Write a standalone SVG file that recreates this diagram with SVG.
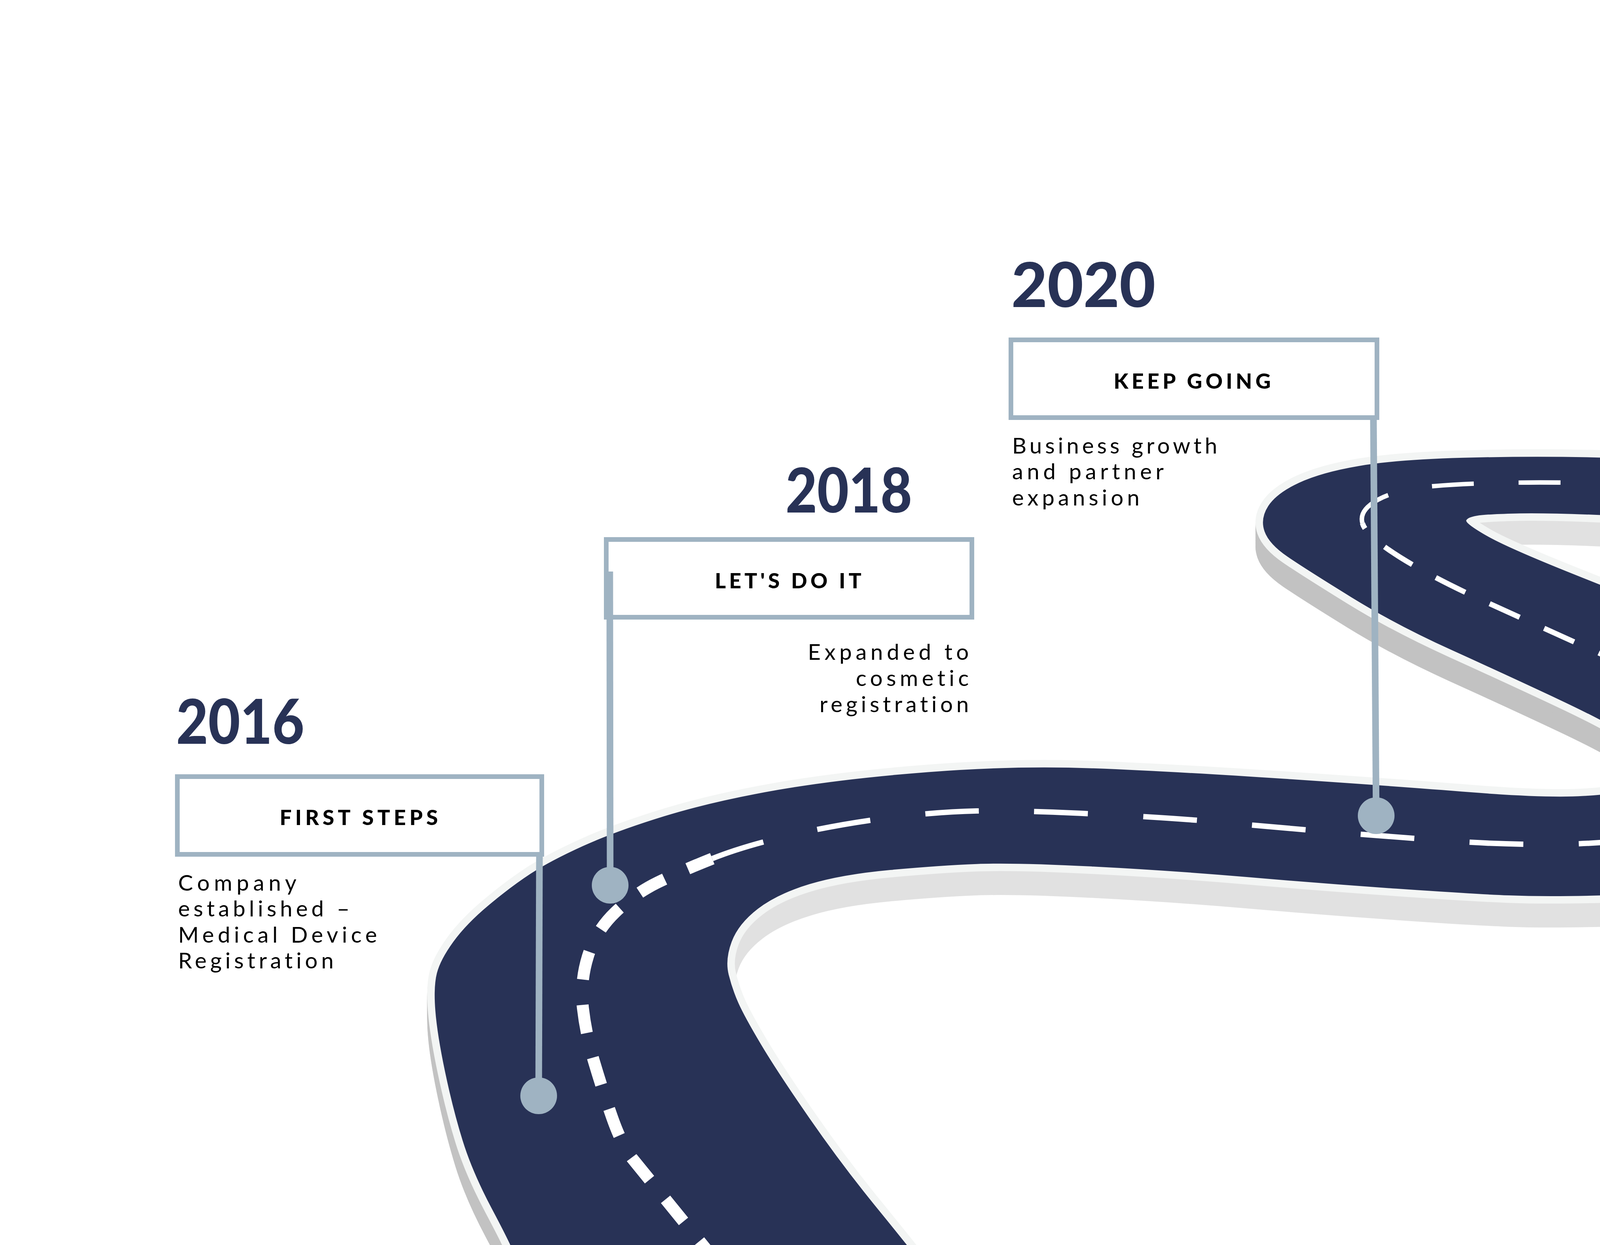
<svg xmlns="http://www.w3.org/2000/svg" width="6000" height="3187" viewBox="0 0 6000 3187">
<style>
.yr{font-family:Lato,'Liberation Sans',sans-serif;font-weight:900;font-size:158px;fill:#283256}
.lbl{font-family:Lato,'Liberation Sans',sans-serif;font-weight:900;font-size:54px;fill:#000}
.desc{font-family:Lato,'Liberation Sans',sans-serif;font-weight:400;font-size:57px;fill:#000;font-variant-ligatures:none}
.box{fill:#fff;stroke:#9fb3c2;stroke-width:12}
.pole{stroke:#9fb3c2;stroke-width:17;fill:none}
.dot{fill:#9fb3c2}
.dash{fill:none;stroke:#fff;stroke-linecap:butt}
</style>
<defs>
<path id="roadShape" d="M346,845 L344,839 Q342,833 329,808.5 Q316,784 309.5,763 Q303,742 297.75,717 Q292.5,692 291.25,676 Q290,660 292.3,651 Q294.6,642 303.3,630 Q312,618 327,605.5 Q342,593 355,584.5 Q368,576 390,566 Q412,556 444.5,546 Q477,536 520,528.5 Q563,521 621,516.5 Q679,512 731.5,514 Q784,516 859,521 Q934,526 984,530 Q1034,534 1059.5,532.5 Q1085,531 1097.5,527 Q1110,523 1111,518.5 Q1112,514 1106,507 Q1100,500 1087.5,491.5 Q1075,483 1042,467.5 Q1009,452 971.5,435 Q934,418 904,399.5 Q874,381 861.5,372.5 Q849,364 846,355.5 Q843,347 848.5,338.5 Q854,330 869,323 Q884,316 909,311.75 Q934,307.5 979,306.25 Q1024,305 1067,306 Q1110,307 1167.5,308.5 Q1225,310 1230.5,307 Q1236,304 1238,297.5 Q1240,291 1240.5,279.5 Q1241,268 1242,259 Q1243,250 1249,240.5 Q1255,231 1270,224 Q1285,217 1310,212.5 Q1335,208 1372.5,205.5 Q1410,203 1447.5,201.75 Q1485,200.5 1526.5,199.75 Q1568,199 1600,199 L1600,228 L1584,228 Q1568,228 1526.8,229.5 Q1485.6,231 1448.1,233.85 Q1410.6,236.7 1391.3,240.35 Q1372,244 1366.5,250 Q1361,256 1360.5,263 Q1360,270 1360,283 Q1360,296 1355,307.5 Q1350,319 1337.5,327.5 Q1325,336 1305,341 Q1285,346 1247.5,348 Q1210,350 1162.35,348.2 Q1114.7,346.4 1074.6,344.7 Q1034.5,343 1014.25,343.5 Q994,344 988,345 Q982,346 981,348 Q980,350 994.75,358.5 Q1009.5,367 1059.6,386.85 Q1109.7,406.7 1147.35,423.7 Q1185,440.7 1210,454.85 Q1235,469 1250,484.5 Q1265,500 1268.75,511.5 Q1272.5,523 1268.75,531.5 Q1265,540 1250,551.25 Q1235,562.5 1210,573.75 Q1185,585 1147.5,591.5 Q1110,598 1072.25,599 Q1034.5,600 1009.45,599 Q984.4,598 934.2,594.5 Q884,591 834,586.7 Q784,582.4 731.5,579.7 Q679,577 653.5,578 Q628,579 595.5,582 Q563,585 541.5,591.5 Q520,598 507,608 Q494,618 489.5,630 Q485,642 487.5,652 Q490,662 494,671 Q498,680 509,698.5 Q520,717 541.5,748 Q563,779 585,806 Q607,833 613.5,841.5 L620,850 Z"/>
<clipPath id="darkClip" clipPathUnits="userSpaceOnUse">
<polygon points="790,340 845,340 870,372 930,408 1005,442 1070,473 1105,495 1125,515 1125,570 790,570"/>
<polygon points="200,650 292,650 300,700 318,765 350,860 200,860"/>
</clipPath>
</defs>
<rect width="6000" height="3187" fill="#fff"/>
<g id="road" transform="scale(3.8265)">
<g fill="#e1e1e1" stroke="#e1e1e1" stroke-width="10" stroke-linejoin="round">
<use href="#roadShape" y="2"/><use href="#roadShape" y="4"/><use href="#roadShape" y="6"/><use href="#roadShape" y="8"/><use href="#roadShape" y="10"/><use href="#roadShape" y="12"/><use href="#roadShape" y="14"/><use href="#roadShape" y="16"/>
</g>
<g clip-path="url(#darkClip)" fill="#c2c2c2" stroke="#c2c2c2" stroke-width="10" stroke-linejoin="round">
<use href="#roadShape" y="2"/><use href="#roadShape" y="4"/><use href="#roadShape" y="6"/><use href="#roadShape" y="8"/><use href="#roadShape" y="10"/><use href="#roadShape" y="12"/><use href="#roadShape" y="14"/><use href="#roadShape" y="16"/>
</g>
<use href="#roadShape" fill="#f3f5f4" stroke="#f3f5f4" stroke-width="10" stroke-linejoin="round"/>
<use href="#roadShape" fill="#283256"/>
<g id="centerline">
<path class="dash" stroke-width="8" stroke-dasharray="19 17" d="M480,845 L423,775 Q416,766 409.5,747.5 Q403,729 397.5,710.5 Q392,692 390,674.5 Q388,657 393.3,639.85 Q398.6,622.7 411.6,610.3 Q424.6,597.9 439.8,590.45 Q455,583 476.5,574.4"/>
<path class="dash" stroke-width="3.6" stroke-dasharray="36 37" d="M476.5,574.4 Q498,565.8 530.5,558.4 Q563,551 595.5,547 Q628,543 653.5,542.5 Q679,542 731.5,544.5 Q784,547 821.5,550.5 Q859,554 896.5,557 Q934,560 971.75,562.7 Q1009.5,565.4 1047.05,564.7 Q1084.6,564 1114.8,557.5 Q1145,551 1162.5,542.5 Q1180,534 1185.5,526.5 Q1191,519 1188,511"/>
<path class="dash" stroke-width="3.5" stroke-dasharray="22 18" d="M1188,511 Q1185,503 1172.5,491.7 Q1160,480.4 1134.85,467.7 Q1109.7,455 1072.1,438 Q1034.5,421 996.95,404 Q959.4,387 936.7,372.8 Q914,358.6 911.5,350.05"/>
<path class="dash" stroke-width="3" stroke-dasharray="28 30" d="M911.5,350.05 Q909,341.5 921.65,334.45 Q934.3,327.4 959.35,325.2 Q984.4,323 1022.2,322.8 Q1060,322.6 1097.5,324.3 Q1135,326 1172.5,327.8 Q1210,329.6 1235,328.5 Q1260,327.4 1275,323.2"/>
<path class="dash" stroke-width="3" stroke-dasharray="10 8" d="M1275,323.2 Q1290,319 1295,310.5 Q1300,302 1300,287.8 Q1300,273.6 1300.5,263.65 Q1301,253.7 1308,245.2 Q1315,236.7 1337.5,229.65"/>
<path class="dash" stroke-width="2.6" stroke-dasharray="30 28" d="M1337.5,229.65 Q1360,222.6 1397.85,219.05 Q1435.7,215.5 1473.3,214.05 Q1510.9,212.6 1539.45,211.9 Q1568,211.2 1600,210.5"/>
</g>
</g>
<g id="m2016">
<text class="yr" x="451" y="1904" textLength="328" lengthAdjust="spacingAndGlyphs">2016</text>
<rect class="box" x="454" y="1988" width="933" height="199"/>
<text class="lbl" x="716" y="2112" textLength="405" lengthAdjust="spacing">FIRST STEPS</text>
<text class="desc" x="456" y="2280" textLength="303" lengthAdjust="spacing">Company</text>
<text class="desc" x="456" y="2346" textLength="439" lengthAdjust="spacing">established –</text>
<text class="desc" x="456" y="2413" textLength="509" lengthAdjust="spacing">Medical Device</text>
<text class="desc" x="456" y="2479" textLength="398" lengthAdjust="spacing">Registration</text>
</g>
<g id="m2018">
<text class="yr" x="2011" y="1312" textLength="324" lengthAdjust="spacingAndGlyphs">2018</text>
<rect class="box" x="1552" y="1381" width="936" height="199"/>
<text class="lbl" x="1830" y="1506" textLength="375" lengthAdjust="spacing">LET'S DO IT</text>
<text class="desc" x="2068" y="1689" textLength="412" lengthAdjust="spacing">Expanded to</text>
<text class="desc" x="2191" y="1756" textLength="289" lengthAdjust="spacing">cosmetic</text>
<text class="desc" x="2098" y="1823" textLength="382" lengthAdjust="spacing">registration</text>
</g>
<g id="m2020">
<text class="yr" x="2589" y="786" textLength="369" lengthAdjust="spacingAndGlyphs">2020</text>
<rect class="box" x="2588" y="870" width="937" height="199"/>
<text class="lbl" x="2851" y="995" textLength="402" lengthAdjust="spacing">KEEP GOING</text>
<text class="desc" x="2591" y="1161" textLength="525" lengthAdjust="spacing">Business growth</text>
<text class="desc" x="2591" y="1227" textLength="388" lengthAdjust="spacing">and partner</text>
<text class="desc" x="2591" y="1294" textLength="326" lengthAdjust="spacing">expansion</text>
</g>
<g id="m2022">
<text class="yr" x="4761" y="2507" textLength="351" lengthAdjust="spacingAndGlyphs">2022</text>
<rect class="box" x="4510" y="2630" width="936" height="199"/>
<text class="lbl" x="4586" y="2754" textLength="776" lengthAdjust="spacing">ENDURE AND CARRY ON</text>
<text class="desc" x="5063" y="2905" textLength="363" lengthAdjust="spacing">Continuous</text>
<text class="desc" x="4805" y="2970" textLength="621" lengthAdjust="spacing">innovation to meet</text>
<text class="desc" x="4909" y="3035" textLength="517" lengthAdjust="spacing">customer needs</text>
</g>
<g id="m2024">
<text class="yr" x="4502" y="200" textLength="368" lengthAdjust="spacingAndGlyphs">2024</text>
<rect class="box" x="4508" y="283" width="938" height="200"/>
<text class="lbl" x="4763" y="409" textLength="423" lengthAdjust="spacing">HERE WE ARE</text>
<text class="desc" x="4937" y="568" textLength="500" lengthAdjust="spacing">Embracing new</text>
<text class="desc" x="4937" y="635" textLength="500" lengthAdjust="spacing">challenges and</text>
<text class="desc" x="4698" y="702" textLength="739" lengthAdjust="spacing">leveraging experience</text>
</g>
<g id="connectors">
<line class="pole" x1="1381" y1="2190" x2="1379" y2="2805"/>
<line class="pole" x1="1561" y1="1463" x2="1562" y2="2266"/>
<line class="pole" x1="3516" y1="1072" x2="3523" y2="2088"/>
<line class="pole" x1="4505" y1="2020" x2="4500" y2="2832"/>
<line class="pole" x1="4511" y1="278" x2="4514" y2="1260"/>
<circle class="dot" cx="1379" cy="2805" r="47"/>
<circle class="dot" cx="1562" cy="2266" r="47"/>
<circle class="dot" cx="3523" cy="2088" r="47"/>
<circle class="dot" cx="4505" cy="2020" r="47"/>
<circle class="dot" cx="4514" cy="1260" r="47"/>
</g>
</svg>
